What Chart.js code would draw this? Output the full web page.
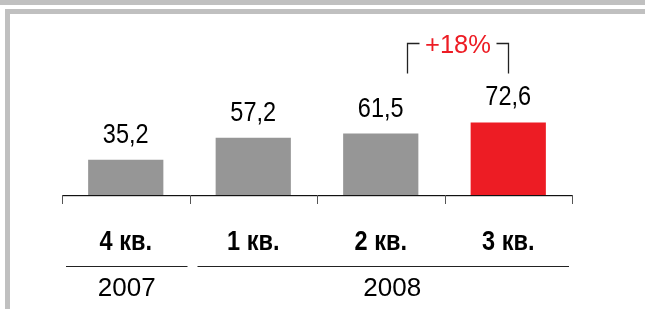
<!DOCTYPE html>
<html>
<head>
<meta charset="utf-8">
<script src="https://cdn.jsdelivr.net/npm/chart.js@4/dist/chart.umd.min.js"></script>
<style>
  body { margin: 0; background: #fff; }
  #wrap { width: 645px; height: 309px; }
</style>
</head>
<body>
<div id="wrap"><canvas id="myChart" width="645" height="309"></canvas></div>
<script>
const quarters = ['4 кв.', '1 кв.', '2 кв.', '3 кв.'];
const values = [35.2, 57.2, 61.5, 72.6];
const valueLabels = ['35,2', '57,2', '61,5', '72,6'];
const barColors = ['#969696', '#969696', '#969696', '#ed1c24'];
const years = ['2007', '2008'];
const yearSpans = [[0, 0], [1, 3]];
const growthLabel = '+18%';

// text drawn a bit condensed, like the original
function narrowText(ctx, text, x, y, font, squeeze, color) {
    ctx.save();
    ctx.font = font;
    ctx.fillStyle = color;
    ctx.textAlign = 'center';
    ctx.textBaseline = 'alphabetic';
    ctx.translate(x, y);
    ctx.scale(squeeze, 1);
    ctx.fillText(text, 0, 0);
    ctx.restore();
}

const decor = {
    id: 'decor',
    beforeDraw(chart) {
        const ctx = chart.ctx;
        ctx.save();
        ctx.fillStyle = '#c0c0c0';
        ctx.fillRect(0, 0, 645, 5);
        ctx.fillRect(5, 9, 640, 5);
        ctx.fillRect(5, 9, 5, 300);
        ctx.restore();
    },
    afterDatasetsDraw(chart) {
        const ctx = chart.ctx;
        const x = chart.scales.x;
        const y = chart.scales.y;
        const base = y.getPixelForValue(0);
        const step = x.getPixelForValue(1) - x.getPixelForValue(0);
        const left = x.getPixelForValue(0) - step / 2;

        // axis line + ticks
        ctx.save();
        ctx.fillStyle = '#111';
        ctx.fillRect(left, base, step * quarters.length, 1.2);
        ctx.strokeStyle = '#555';
        ctx.lineWidth = 1;
        for (let i = 0; i <= quarters.length; i++) {
            const tx = Math.round(left + step * i) + 0.5;
            ctx.beginPath();
            ctx.moveTo(tx, base);
            ctx.lineTo(tx, base + 9);
            ctx.stroke();
        }
        ctx.restore();

        // value labels and quarter labels
        values.forEach((v, i) => {
            const cx = x.getPixelForValue(i);
            narrowText(ctx, valueLabels[i], cx, y.getPixelForValue(v) - 17, '28px "Liberation Sans", Arial, sans-serif', 0.84, '#000');
            narrowText(ctx, quarters[i], cx, 250, 'bold 28px "Liberation Sans", Arial, sans-serif', 0.84, '#000');
        });

        // year groups
        ctx.save();
        ctx.strokeStyle = '#222';
        ctx.lineWidth = 1;
        yearSpans.forEach((span, i) => {
            const x1 = left + step * span[0] + (i === 0 ? 4 : 8);
            const x2 = left + step * (span[1] + 1) - (i === 0 ? 2 : 3);
            ctx.beginPath();
            ctx.moveTo(x1, 266.5);
            ctx.lineTo(x2, 266.5);
            ctx.stroke();
            const lx = (x1 + x2) / 2 + (i === 0 ? 0 : 9);
            narrowText(ctx, years[i], lx, 296, '26px "Liberation Sans", Arial, sans-serif', 1, '#000');
        });
        ctx.restore();

        // growth bracket between 2 and 3 кв.
        const bx1 = Math.round(x.getPixelForValue(2) + 26) + 0.5;
        const bx2 = Math.round(x.getPixelForValue(3)) + 0.5;
        const by = 43.5;
        ctx.save();
        ctx.strokeStyle = '#222';
        ctx.lineWidth = 1.3;
        ctx.beginPath();
        ctx.moveTo(bx1, by + 30);
        ctx.lineTo(bx1, by);
        ctx.lineTo(bx1 + 12, by);
        ctx.moveTo(bx2 - 12, by);
        ctx.lineTo(bx2, by);
        ctx.lineTo(bx2, by + 30);
        ctx.stroke();
        ctx.restore();
        narrowText(ctx, growthLabel, (bx1 + bx2) / 2, 53, '25.5px "Liberation Sans", Arial, sans-serif', 1, '#ed1c24');
    }
};

const ctx = document.getElementById('myChart');

new Chart(ctx, {
    type: 'bar',
    data: {
        labels: quarters,
        datasets: [{
            data: values,
            backgroundColor: barColors,
            borderWidth: 0,
            categoryPercentage: 1,
            barPercentage: 0.59
        }]
    },
    options: {
        responsive: false,
        animation: false,
        layout: {
            padding: { left: 62, right: 73, top: 20, bottom: 114 }
        },
        plugins: {
            legend: { display: false },
            tooltip: { enabled: false }
        },
        scales: {
            x: { display: false },
            y: { display: false, min: 0, max: 175 }
        }
    },
    plugins: [decor]
});
</script>
</body>
</html>
